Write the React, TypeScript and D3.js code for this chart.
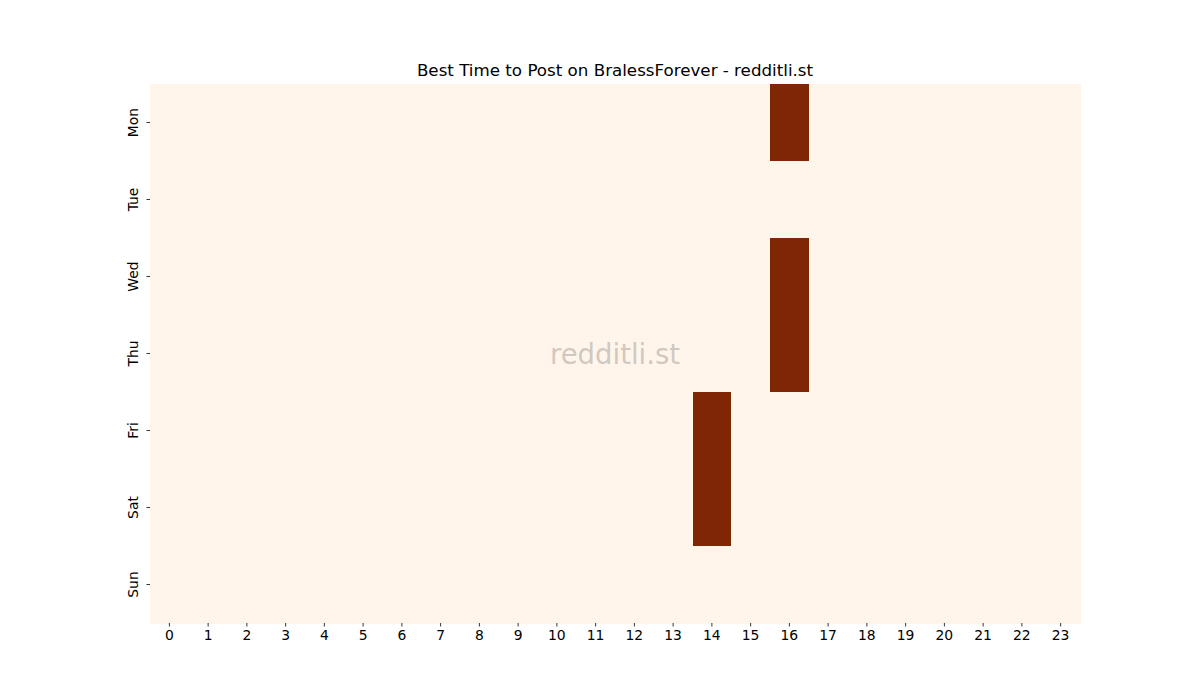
import React, { useEffect, useRef } from 'react';
import * as d3 from 'd3';

const days = ['Mon', 'Tue', 'Wed', 'Thu', 'Fri', 'Sat', 'Sun'];
const hours = d3.range(24).map(String);

// posting score per day (rows) x hour (cols)
const monScores = [0,0,0,0,0,0,0,0,0,0,0,0,0,0,0,0,1,0,0,0,0,0,0,0];
const tueScores = [0,0,0,0,0,0,0,0,0,0,0,0,0,0,0,0,0,0,0,0,0,0,0,0];
const wedScores = [0,0,0,0,0,0,0,0,0,0,0,0,0,0,0,0,1,0,0,0,0,0,0,0];
const thuScores = [0,0,0,0,0,0,0,0,0,0,0,0,0,0,0,0,1,0,0,0,0,0,0,0];
const friScores = [0,0,0,0,0,0,0,0,0,0,0,0,0,0,1,0,0,0,0,0,0,0,0,0];
const satScores = [0,0,0,0,0,0,0,0,0,0,0,0,0,0,1,0,0,0,0,0,0,0,0,0];
const sunScores = [0,0,0,0,0,0,0,0,0,0,0,0,0,0,0,0,0,0,0,0,0,0,0,0];

const scores = [monScores, tueScores, wedScores, thuScores, friScores, satScores, sunScores];

const App: React.FC = () => {
  const svgRef = useRef<SVGSVGElement>(null);

  useEffect(() => {
    if (!svgRef.current) return;
    const width = 1200;
    const height = 700;
    const margin = { left: 150, right: 120, top: 84, bottom: 77 };
    const svg = d3.select(svgRef.current);
    svg.selectAll('*').remove();

    const x = d3.scaleBand().domain(hours).range([margin.left, width - margin.right]);
    const y = d3.scaleBand().domain(days).range([margin.top, height - margin.bottom]);
    const color = d3.scaleLinear<string>().domain([0, 1]).range(['#fff5eb', '#7f2704']);

    const cells = scores.flatMap((row, i) => row.map((v, j) => ({ day: days[i], hour: hours[j], v })));

    svg.append('g')
      .selectAll('rect')
      .data(cells)
      .enter()
      .append('rect')
      .attr('x', d => x(d.hour)!)
      .attr('y', d => y(d.day)!)
      .attr('width', x.bandwidth() + 0.5)
      .attr('height', y.bandwidth() + 0.5)
      .attr('fill', d => color(d.v))
      .attr('shape-rendering', 'crispEdges');

    const font = 'DejaVu Sans, sans-serif';

    const xAxis = svg.append('g')
      .attr('transform', `translate(0,${height - margin.bottom})`)
      .call(d3.axisBottom(x).tickSize(3.5).tickPadding(3.5));
    xAxis.select('.domain').remove();
    xAxis.selectAll('text').attr('font-family', font).attr('font-size', 13.9).attr('fill', '#000');
    xAxis.selectAll('line').attr('stroke', '#000').attr('stroke-width', 0.8);

    const yAxis = svg.append('g')
      .attr('transform', `translate(${margin.left},0)`)
      .call(d3.axisLeft(y).tickSize(3.5).tickPadding(3.5));
    yAxis.select('.domain').remove();
    yAxis.selectAll('line').attr('stroke', '#000').attr('stroke-width', 0.8);
    yAxis.selectAll<SVGTextElement, string>('text')
      .attr('font-family', font)
      .attr('font-size', 13.9)
      .attr('fill', '#000')
      .attr('x', null)
      .attr('dy', null)
      .attr('text-anchor', 'middle')
      .attr('transform', 'translate(-12,0) rotate(-90)')
      .attr('dominant-baseline', 'auto');

    svg.append('text')
      .attr('x', (margin.left + width - margin.right) / 2)
      .attr('y', 76)
      .attr('text-anchor', 'middle')
      .attr('font-family', font)
      .attr('font-size', 16.7)
      .attr('fill', '#000')
      .text('Best Time to Post on BralessForever - redditli.st');

    svg.append('text')
      .attr('x', (margin.left + width - margin.right) / 2)
      .attr('y', (margin.top + height - margin.bottom) / 2)
      .attr('text-anchor', 'middle')
      .attr('dominant-baseline', 'central')
      .attr('font-family', font)
      .attr('font-size', 27.5)
      .attr('fill', '#808080')
      .attr('fill-opacity', 0.4)
      .text('redditli.st');
  }, []);

  return <svg ref={svgRef} width={1200} height={700} style={{ display: 'block', margin: -8 }} />;
};

export default App;
